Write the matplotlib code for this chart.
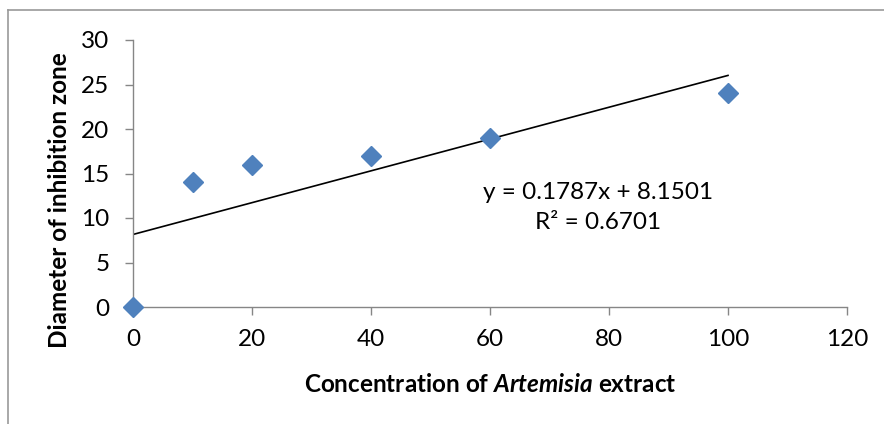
import numpy as np
import matplotlib
matplotlib.use('Agg')
import matplotlib.pyplot as plt
from matplotlib.lines import Line2D

plt.rcParams['font.family'] = ['Lato', 'DejaVu Sans']
plt.rcParams['mathtext.fontset'] = 'custom'
plt.rcParams['mathtext.bfit'] = 'Lato:italic:bold'
plt.rcParams['mathtext.bf'] = 'Lato:bold'
plt.rcParams['mathtext.rm'] = 'Lato'

# data
conc = [0, 10, 20, 40, 60, 100]
zone = [0, 14, 16, 17, 19, 24]
slope = 0.1787
intercept = 8.1501
r2 = 0.6701

fig = plt.figure(figsize=(8.84, 4.24), dpi=100)
ax = fig.add_axes([133/884, 1-307/424, (847-133)/884, (307-40)/424])

# trendline
xt = np.array([0, 100])
ax.plot(xt, slope*xt + intercept, color='black', lw=1.2, zorder=2)
ax.plot(conc, zone, linestyle='none', marker='D', markersize=10.5,
        color='#4F81BD', clip_on=False, zorder=3)

ax.set_xlim(0, 120)
ax.set_ylim(0, 30)
ax.set_xticks(np.arange(0, 121, 20))
ax.set_yticks(np.arange(0, 31, 5))
for s in ['top', 'right']:
    ax.spines[s].set_visible(False)
for s in ['left', 'bottom']:
    ax.spines[s].set_color('#868686')
    ax.spines[s].set_linewidth(1.0)
ax.tick_params(axis='both', direction='out', length=6, width=1.0,
               color='#868686', labelsize=17.5)
ax.tick_params(axis='y', pad=11)
ax.tick_params(axis='x', pad=10)

ax.text(78.2, 11.2, 'y = %.4fx + %.4f\nR² = %.4f' % (slope, intercept, r2),
        ha='center', va='center', multialignment='center', fontsize=17.5,
        linespacing=1.5)

fig.text(490/884, 1-384/424, r'Concentration of $\mathbfit{Artemisia}$ extract',
         ha='center', va='center', fontsize=17.5, fontweight='bold')
fig.text(60/884, 1-200/424, 'Diameter of inhibition zone', rotation=90,
         ha='center', va='center', fontsize=17.5, fontweight='bold')

# outer chart border (top and left visible)
fig.add_artist(Line2D([8/884, 8/884], [0, 1-10/424], color='#999999', lw=1.2))
fig.add_artist(Line2D([8/884, 1], [1-10/424, 1-10/424], color='#999999', lw=1.2))

fig.savefig('out.png', dpi=100)
